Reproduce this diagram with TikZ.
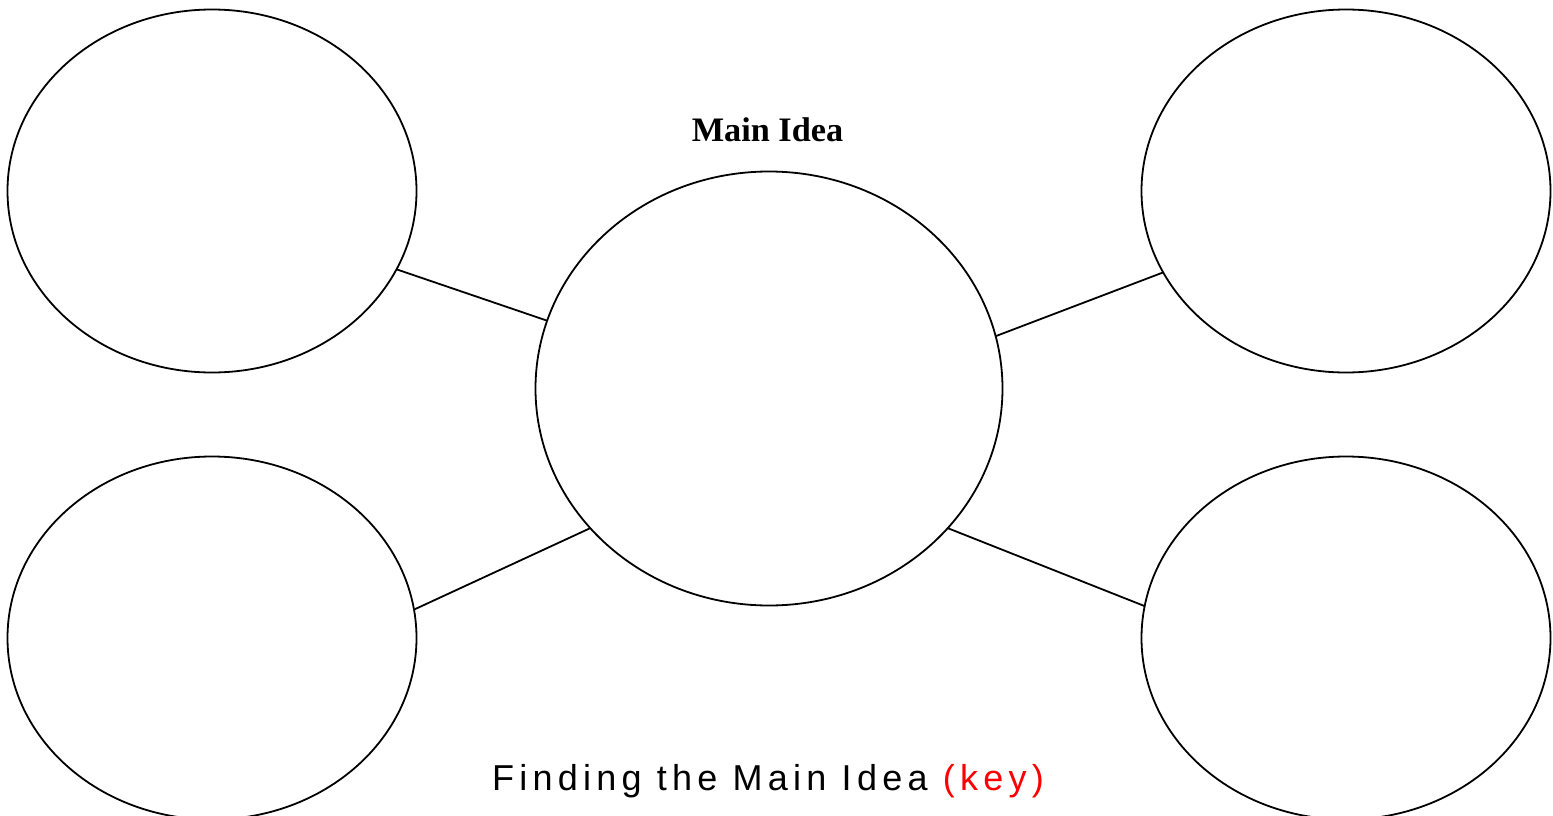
\documentclass[tikz,border=0pt]{standalone}
\usepackage{fontspec}
\setmainfont{Liberation Serif}
\newfontfamily\keyfont[LetterSpace=14.6]{Liberation Sans}
\usetikzlibrary{shapes.geometric}
\begin{document}
\begin{tikzpicture}[x=1pt,y=-1pt,
  bubble/.style={draw=black,line width=1.8pt,ellipse,inner sep=0pt,outer sep=0pt,minimum width=409pt,minimum height=363pt},
  hub/.style={draw=black,line width=1.8pt,ellipse,inner sep=0pt,outer sep=0pt,minimum width=467pt,minimum height=434pt},
  link/.style={draw=black,line width=1.8pt}]
\useasboundingbox (0,0) rectangle (1553,816);
\node[bubble] (tl) at (212,191) {};
\node[bubble] (tr) at (1346,191) {};
\node[bubble] (bl) at (212,638) {};
\node[bubble] (br) at (1346,638) {};
\node[hub] (c) at (769,388.5) {};
\node[font=\fontsize{34.3}{38}\selectfont\bfseries] (title) at (767.5,130) {Main Idea};
\node[font=\keyfont\fontsize{36}{40}\selectfont,anchor=base] (cap) at (768,790) {Finding the Main Idea \textcolor{red}{(key)}};
\draw[link] (tl.-23.1) -- (c.163.6);
\draw[link] (c.13.6) -- (tr.-156.8);
\draw[link] (bl.8.9) -- (c.218.9);
\draw[link] (c.-38.6) -- (br.171.1);
\end{tikzpicture}
\end{document}
